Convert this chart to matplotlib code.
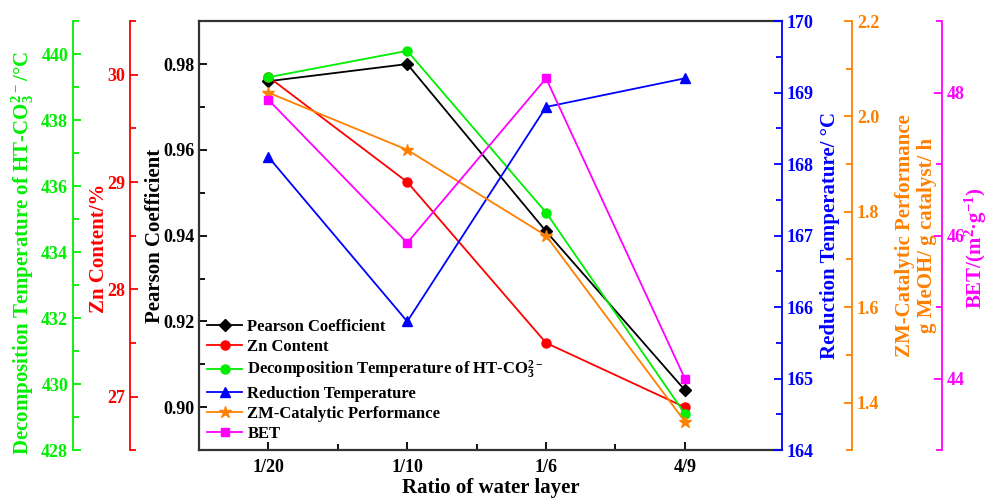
import matplotlib
matplotlib.use('Agg')
import matplotlib.pyplot as plt
from matplotlib.ticker import MultipleLocator, FixedLocator

plt.rcParams['font.family'] = ['Liberation Serif', 'DejaVu Serif']
plt.rcParams['font.weight'] = 'bold'
plt.rcParams['mathtext.default'] = 'regular'

# data
ratios = ['1/20', '1/10', '1/6', '4/9']
pearson = [0.976, 0.980, 0.941, 0.904]
zn_content = [29.98, 29.0, 27.5, 26.9]
decomp_temp = [439.3, 440.1, 435.2, 429.1]
red_temp = [168.1, 165.8, 168.8, 169.2]
zm_perf = [2.05, 1.93, 1.75, 1.36]
bet = [47.9, 45.9, 48.2, 44.0]

GREEN = '#00ee00'
RED = '#ff0000'
BLUE = '#0000ff'
ORANGE = '#ff8000'
MAGENTA = '#ff00ff'

x = list(range(len(ratios)))

fig = plt.figure(figsize=(9.9, 5.03), dpi=100)
ax = fig.add_axes([0.201, 0.105, 0.589, 0.853])

def side_axis(side, pos, color, lim, major, minor):
    a = ax.twinx()
    for s in a.spines.values():
        s.set_visible(False)
    a.spines[side].set_visible(True)
    a.spines[side].set_position(('axes', pos))
    a.spines[side].set_color(color)
    a.spines[side].set_linewidth(1.3)
    a.yaxis.set_ticks_position(side)
    a.yaxis.set_label_position(side)
    a.set_ylim(*lim)
    a.yaxis.set_major_locator(MultipleLocator(major))
    a.yaxis.set_minor_locator(MultipleLocator(minor))
    a.tick_params(axis='y', which='both', direction='in', colors=color,
                  labelsize=13, width=1.3)
    a.tick_params(axis='y', which='major', length=6)
    a.tick_params(axis='y', which='minor', length=4)
    return a

ax_zn = side_axis('left', -0.118, RED, (26.5, 30.5), 1, 0.5)
ax_dt = side_axis('left', -0.216, GREEN, (428, 441), 2, 1)
ax_rt = side_axis('right', 1.0, BLUE, (164, 170), 1, 0.5)
ax_zm = side_axis('right', 1.12, ORANGE, (1.3, 2.2), 0.2, 0.1)
ax_bet = side_axis('right', 1.274, MAGENTA, (43, 49), 2, 1)
ax_zm.yaxis.set_major_formatter(matplotlib.ticker.FormatStrFormatter('%.1f'))

# main axis
ax.set_xlim(-0.5, 3.7)
ax.set_ylim(0.89, 0.99)
ax.yaxis.set_major_locator(MultipleLocator(0.02))
ax.yaxis.set_minor_locator(MultipleLocator(0.01))
ax.yaxis.set_major_formatter(matplotlib.ticker.FormatStrFormatter('%.2f'))
ax.set_xticks(x)
ax.set_xticklabels(ratios)
ax.xaxis.set_minor_locator(FixedLocator([0.5, 1.5, 2.5]))
ax.tick_params(which='both', direction='in', labelsize=13, width=1.3)
ax.tick_params(which='major', length=6)
ax.tick_params(which='minor', length=4)
ax.tick_params(axis='y', right=False)
ax.tick_params(axis='x', top=False, pad=6)
ax.spines['right'].set_visible(False)
for s in ['left', 'top', 'bottom']:
    ax.spines[s].set_linewidth(1.6)
    ax.spines[s].set_color('#333333')

for a in [ax, ax_zn, ax_dt, ax_rt, ax_zm, ax_bet]:
    plt.setp(a.get_yticklabels(), fontweight='bold')
plt.setp(ax.get_xticklabels(), fontweight='bold')

lw = 1.3
h1, = ax.plot(x, pearson, color='black', marker='D', ms=6, lw=lw, label='Pearson Coefficient')
h2, = ax_zn.plot(x, zn_content, color=RED, marker='o', ms=6.5, lw=lw, label='Zn Content')
h3, = ax_dt.plot(x, decomp_temp, color=GREEN, marker='o', ms=6.5, lw=lw,
                 label='Decomposition Temperature of HT-CO$_3^{2-}$')
h4, = ax_rt.plot(x, red_temp, color=BLUE, marker='^', ms=7.5, lw=lw, label='Reduction Temperature')
h5, = ax_zm.plot(x, zm_perf, color=ORANGE, marker='*', ms=9, lw=lw, label='ZM-Catalytic Performance')
h6, = ax_bet.plot(x, bet, color=MAGENTA, marker='s', ms=6, lw=lw, label='BET')

# axis labels
lab = dict(fontsize=15, fontweight='bold', va='center', ha='center')
ax.set_ylabel('Pearson Coefficient', color='black', **lab)
ax.yaxis.set_label_coords(-0.075, 0.5)
ax_zn.set_ylabel('Zn Content/%', color=RED, **lab)
ax_zn.yaxis.set_label_coords(-0.172, 0.47)
ax_dt.set_ylabel('Decomposition Temperature of HT-CO$_3^{2-}$/°C', color=GREEN, **lab)
ax_dt.yaxis.set_label_coords(-0.302, 0.46)
ax_rt.set_ylabel('Reduction Temperature/ °C', color=BLUE, **lab)
ax_rt.yaxis.set_label_coords(1.082, 0.5)
ax_zm.set_ylabel('ZM-Catalytic Performance\ng MeOH/ g catalyst/ h', color=ORANGE,
                 linespacing=1.1, **lab)
ax_zm.yaxis.set_label_coords(1.230, 0.5)
ax_bet.set_ylabel('BET/(m$^2$·g$^{-1}$)', color=MAGENTA, **lab)
ax_bet.yaxis.set_label_coords(1.333, 0.47)
ax.set_xlabel('Ratio of water layer', fontsize=15, fontweight='bold', labelpad=2)

ax_bet.legend(handles=[h1, h2, h3, h4, h5, h6], loc='lower left',
              bbox_to_anchor=(0.0, 0.0), frameon=False, fontsize=12,
              handlelength=2.1, handletextpad=0.3, labelspacing=0.25,
              borderpad=0.3, borderaxespad=0.2)

fig.savefig('out.png', dpi=100)
